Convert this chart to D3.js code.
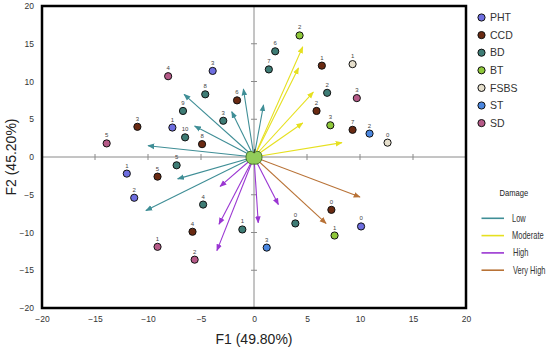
<!DOCTYPE html>
<html lang="en">
<head>
<meta charset="UTF-8">
<script src="https://cdn.jsdelivr.net/npm/d3@7"></script>
<style>
  body { margin: 0; background: #fff; }
  svg { font-family: Arial, "Liberation Sans", sans-serif; }
</style>
</head>
<body>
<script>
// ---------- data ----------
const groups = ["PHT", "CCD", "BD", "BT", "FSBS", "ST", "SD"];
const groupColors = ["#6e6ee0", "#6a2a12", "#3e7c75", "#8fc83a", "#e6dfcc", "#4b87e0", "#b65a88"];

// [F1, F2, label]
const PHT = [[-3.9, 11.4, "3"], [-7.7, 3.9, "1"], [-12.0, -2.2, "1"], [-11.3, -5.4, "2"], [10.1, -9.2, "0"]];
const CCD = [[-1.6, 7.5, "6"], [-11.0, 4.0, "3"], [-4.9, 1.7, "8"], [-9.1, -2.6, "5"], [-5.8, -9.9, "4"],
             [6.4, 12.1, "1"], [5.9, 6.1, "2"], [9.3, 3.6, "7"], [7.3, -7.0, "0"]];
const BD = [[2.0, 14.0, "6"], [1.4, 11.6, "7"], [-4.6, 8.3, "8"], [-6.7, 6.1, "9"], [-2.9, 4.8, "3"],
            [-6.5, 2.6, "10"], [-7.3, -1.1, "5"], [-4.8, -6.3, "4"], [-1.1, -9.6, "1"], [6.9, 8.5, "2"], [3.9, -8.8, "0"]];
const BT = [[4.3, 16.1, "2"], [7.2, 4.2, "3"], [7.6, -10.4, "1"]];
const FSBS = [[9.3, 12.3, "1"], [12.6, 1.9, "0"]];
const ST = [[10.9, 3.1, "2"], [1.2, -12.0, "3"]];
const SD = [[-8.1, 10.7, "4"], [-13.9, 1.8, "5"], [-9.1, -11.9, "1"], [-5.6, -13.6, "2"], [9.7, 7.8, "3"]];
const groupPoints = [PHT, CCD, BD, BT, FSBS, ST, SD];

// arrow end points per damage level
const damageLevels = ["Low", "Moderate", "High", "Very High"];
const damageColors = ["#3f8e96", "#e6e020", "#9a36d2", "#b87236"];
const lowArrows = [[-6.6, 8.3], [-5.6, 4.1], [-10.0, 1.5], [-1.0, 9.0], [-2.1, 6.0], [0.9, 6.9], [-7.2, -2.9], [-10.2, -7.1]];
const moderateArrows = [[4.6, 14.6], [4.2, 11.8], [5.6, 8.6], [4.6, 4.5], [8.3, 1.9]];
const highArrows = [[-3.2, -3.9], [-3.3, -8.9], [-3.5, -12.4], [0.4, -8.7], [2.3, -6.3]];
const veryHighArrows = [[10.0, -5.3], [6.8, -8.8]];
const damageArrows = [lowArrows, moderateArrows, highArrows, veryHighArrows];

const tickValues = [-20, -15, -10, -5, 0, 5, 10, 15, 20];

// ---------- setup ----------
const width = 550, height = 350;
const svg = d3.select("body").append("svg")
    .attr("width", width)
    .attr("height", height);

const x = d3.scaleLinear().domain([-20, 20]).range([42, 466]);
const y = d3.scaleLinear().domain([-20, 20]).range([308, 6]);

// arrow head markers
const defs = svg.append("defs");
damageColors.forEach((c, i) => {
  defs.append("marker")
      .attr("id", "arrow" + i)
      .attr("viewBox", "0 0 10 10")
      .attr("refX", 9).attr("refY", 5)
      .attr("markerWidth", 7).attr("markerHeight", 7)
      .attr("markerUnits", "userSpaceOnUse")
      .attr("orient", "auto")
    .append("path")
      .attr("d", "M0,1L10,5L0,9Z")
      .attr("fill", c);
});

// zero lines with little ticks
svg.append("line")
    .attr("x1", x(-20)).attr("x2", x(20))
    .attr("y1", y(0)).attr("y2", y(0))
    .attr("stroke", "#8a8a8a").attr("stroke-width", 1);
svg.append("line")
    .attr("x1", x(0)).attr("x2", x(0))
    .attr("y1", y(-20)).attr("y2", y(20))
    .attr("stroke", "#8a8a8a").attr("stroke-width", 1);

const inner = tickValues.filter(v => v !== 0 && Math.abs(v) !== 20);
svg.selectAll("xtick")
    .data(inner).enter().append("line")
    .attr("x1", d => x(d)).attr("x2", d => x(d))
    .attr("y1", y(0) - 3).attr("y2", y(0) + 3)
    .attr("stroke", "#8a8a8a");
svg.selectAll("ytick")
    .data(inner).enter().append("line")
    .attr("y1", d => y(d)).attr("y2", d => y(d))
    .attr("x1", x(0) - 3).attr("x2", x(0) + 3)
    .attr("stroke", "#8a8a8a");

// tick labels through the axes
const xAxis = svg.append("g")
    .attr("transform", `translate(0,${y(-20) + 8})`)
    .call(d3.axisBottom(x).tickValues(tickValues).tickSize(0).tickPadding(0));
const yAxis = svg.append("g")
    .attr("transform", `translate(${x(-20) - 8},0)`)
    .call(d3.axisLeft(y).tickValues(tickValues).tickSize(0).tickPadding(0));
[xAxis, yAxis].forEach(a => {
  a.select(".domain").remove();
  a.selectAll("text").attr("font-size", 8.5).attr("fill", "#333")
      .attr("font-family", "Arial, 'Liberation Sans', sans-serif");
});

// frame
svg.append("rect")
    .attr("x", x(-20)).attr("y", y(20))
    .attr("width", x(20) - x(-20)).attr("height", y(-20) - y(20))
    .attr("fill", "none").attr("stroke", "#000").attr("stroke-width", 2.5);

// axis titles
svg.append("text")
    .attr("x", x(0)).attr("y", 344)
    .attr("text-anchor", "middle")
    .attr("font-size", 14).attr("fill", "#222")
    .text("F1 (49.80%)");
svg.append("text")
    .attr("transform", `translate(16,${y(0)}) rotate(-90)`)
    .attr("text-anchor", "middle")
    .attr("font-size", 14).attr("fill", "#222")
    .text("F2 (45.20%)");

// ---------- arrows ----------
damageArrows.forEach((arr, i) => {
  svg.selectAll(".arr" + i)
      .data(arr).enter().append("line")
      .attr("x1", x(0)).attr("y1", y(0))
      .attr("x2", d => x(d[0])).attr("y2", d => y(d[1]))
      .attr("stroke", damageColors[i]).attr("stroke-width", 1.1)
      .attr("marker-end", `url(#arrow${i})`);
});

// ---------- points ----------
groupPoints.forEach((pts, i) => {
  const g = svg.append("g");
  g.selectAll("circle")
      .data(pts).enter().append("circle")
      .attr("cx", d => x(d[0])).attr("cy", d => y(d[1]))
      .attr("r", 3.6)
      .attr("fill", groupColors[i])
      .attr("stroke", "#111").attr("stroke-width", 1);
  g.selectAll("text")
      .data(pts).enter().append("text")
      .attr("x", d => x(d[0])).attr("y", d => y(d[1]) - 6)
      .attr("text-anchor", "middle")
      .attr("font-size", 6).attr("fill", "#444")
      .text(d => d[2]);
});

// ---------- apple at origin ----------
const apple = svg.append("g").attr("transform", `translate(${x(0)},${y(0) + 1})`);
apple.append("path")
    .attr("d", "M0,-5 C3,-8 8,-7 8,-1 C8,4 4,7 0,6 C-4,7 -8,4 -8,-1 C-8,-7 -3,-8 0,-5Z")
    .attr("fill", "#92cc5a").attr("stroke", "#3d6b22").attr("stroke-width", 0.9);
apple.append("path")
    .attr("d", "M0,-5 L1,-9")
    .attr("stroke", "#3d3a20").attr("stroke-width", 1.1);

// ---------- legends ----------
const legend = svg.append("g");
groups.forEach((name, i) => {
  const ly = 17.5 + i * 17.6;
  legend.append("circle")
      .attr("cx", 481.5).attr("cy", ly).attr("r", 3.6)
      .attr("fill", groupColors[i]).attr("stroke", "#111");
  legend.append("text")
      .attr("x", 490).attr("y", ly).attr("dy", "0.35em")
      .attr("font-size", 10.5).attr("fill", "#333")
      .text(name);
});

// damage legend text is horizontally squeezed in the original
svg.append("text")
    .attr("transform", "translate(499.5,193) scale(0.8,1)")
    .attr("dy", "0.35em")
    .attr("font-size", 9.5).attr("fill", "#222")
    .text("Damage");
damageLevels.forEach((name, i) => {
  const ly = 218.3 + i * 17.3;
  svg.append("line")
      .attr("x1", 481.5).attr("x2", 504).attr("y1", ly).attr("y2", ly)
      .attr("stroke", damageColors[i]).attr("stroke-width", 1.6);
  svg.append("text")
      .attr("transform", `translate(${i < 2 ? 512 : 513},${ly}) scale(0.75,1)`)
      .attr("dy", "0.35em")
      .attr("font-size", 10).attr("fill", "#333")
      .text(name);
});
</script>
</body>
</html>
